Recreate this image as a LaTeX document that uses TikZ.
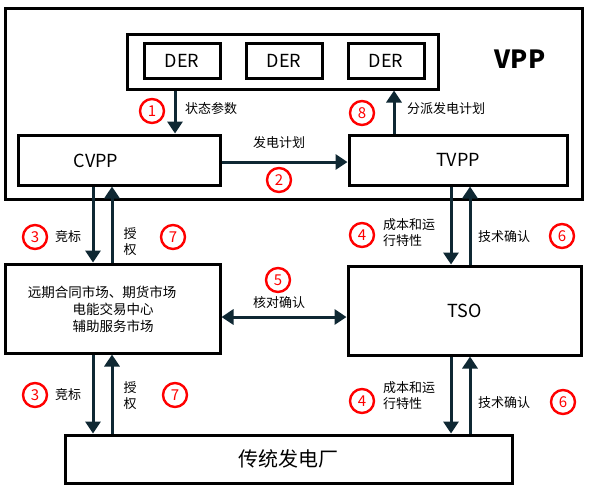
\documentclass[tikz,border=0pt]{standalone}
\usepackage{fontspec}
\setmainfont{Noto Sans CJK SC}
\usetikzlibrary{arrows.meta}
\definecolor{arrcol}{HTML}{0F2833}
\tikzset{
  box/.style={draw=black, line width=3pt, inner sep=0pt},
  arr/.style={draw=arrcol, line width=3pt, -{Triangle[length=12pt,width=15pt]}},
  darr/.style={draw=arrcol, line width=3pt, {Triangle[length=12pt,width=15pt]}-{Triangle[length=12pt,width=15pt]}},
  num/.style={circle, draw=red, line width=2.4pt, minimum size=24pt, inner sep=0pt, text=red, font=\fontsize{15}{15}\selectfont},
  lbl/.style={inner sep=0pt, font=\fontsize{13}{16}\selectfont, align=left},
  big/.style={font=\fontsize{18}{18}\selectfont, inner sep=0pt}
}
\begin{document}
\begin{tikzpicture}[x=1pt,y=-1pt]
\useasboundingbox (0,0) rectangle (591,488);
\fill[white] (0,0) rectangle (591,488);
% boxes
\node[box, minimum width=577pt, minimum height=191pt] (vpp) at (293.5,103.5) {};
\node[box, minimum width=311pt, minimum height=55pt] (derc) at (282.5,61.5) {};
\node[box, big, minimum width=76pt, minimum height=35pt] (der1) at (182,60.5) {DER};
\node[box, big, minimum width=76pt, minimum height=35pt] (der2) at (284,60.5) {DER};
\node[box, big, minimum width=76pt, minimum height=35pt] (der3) at (386,60.5) {DER};
\node[font=\fontsize{25}{25}\selectfont\bfseries, inner sep=0pt] (vpplbl) at (520,59) {VPP};
\node[box, minimum width=202pt, minimum height=50pt] (cvpp) at (119,160) {};
\node[big] (cvpptxt) at (96,161) {CVPP};
\node[box, big, minimum width=218pt, minimum height=50pt] (tvpp) at (458,160) {TVPP};
\node[box, minimum width=215pt, minimum height=89pt] (mkt) at (112.5,308.5) {};
\node[lbl, font=\fontsize{13.5}{17}\selectfont] (mkt1) at (102,292) {远期合同市场、期货市场};
\node[lbl, font=\fontsize{13.5}{17}\selectfont] (mkt2) at (113,309) {电能交易中心};
\node[lbl, font=\fontsize{13.5}{17}\selectfont] (mkt3) at (113,326) {辅助服务市场};
\node[box, big, minimum width=233pt, minimum height=89pt] (tso) at (464.5,310.5) {TSO};
\node[box, font=\fontsize{20}{20}\selectfont, minimum width=447pt, minimum height=48pt] (plant) at (288.5,459) {传统发电厂};
% x positions
\coordinate (x1) at (175,0);
\coordinate (x8) at (394,0);
\coordinate (xa) at (93,0);
\coordinate (xb) at (112,0);
\coordinate (xc) at (451,0);
\coordinate (xd) at (470,0);
\coordinate (y2) at (0,162);
\coordinate (y5) at (0,317);
% arrows
\draw[arr] (derc.south -| x1) -- (cvpp.north -| x1);
\draw[arr] (tvpp.north -| x8) -- (derc.south -| x8);
\draw[arr] (cvpp.east |- y2) -- (tvpp.west |- y2);
\draw[arr] (cvpp.south -| xa) -- (mkt.north -| xa);
\draw[arr] (mkt.north -| xb) -- (cvpp.south -| xb);
\draw[arr] (tvpp.south -| xc) -- (tso.north -| xc);
\draw[arr] (tso.north -| xd) -- (tvpp.south -| xd);
\draw[darr] (mkt.east |- y5) -- (tso.west |- y5);
\draw[arr] (mkt.south -| xa) -- (plant.north -| xa);
\draw[arr] (plant.north -| xb) -- (mkt.south -| xb);
\draw[arr] (tso.south -| xc) -- (plant.north -| xc);
\draw[arr] (plant.north -| xd) -- (tso.south -| xd);
% labels
\node[num] (n1) at (152,111) {1};
\node[lbl, anchor=west] (l1) at (185,109) {状态参数};
\node[num] (n8) at (362,113) {8};
\node[lbl, anchor=west] (l8) at (407,109) {分派发电计划};
\node[lbl] (l2) at (279,143) {发电计划};
\node[num] (n2) at (279,180) {2};
\node[num] (n3a) at (35,237) {3};
\node[lbl, anchor=west] (l3a) at (55,237) {竞标};
\node[lbl] (l7a) at (130,242) {授\\权};
\node[num] (n7a) at (173,237) {7};
\node[num] (n4a) at (362,235) {4};
\node[lbl, anchor=west] (l4a) at (383,233) {成本和运\\行特性};
\node[lbl, anchor=west] (l6a) at (478,237) {技术确认};
\node[num] (n6a) at (562,236) {6};
\node[num] (n5) at (278,280) {5};
\node[lbl] (l5) at (279,303) {核对确认};
\node[num] (n3b) at (35,395) {3};
\node[lbl, anchor=west] (l3b) at (55,395) {竞标};
\node[lbl] (l7b) at (130,396) {授\\权};
\node[num] (n7b) at (175,395) {7};
\node[num] (n4b) at (362,401) {4};
\node[lbl, anchor=west] (l4b) at (383,396) {成本和运\\行特性};
\node[lbl, anchor=west] (l6b) at (478,403) {技术确认};
\node[num] (n6b) at (563,402) {6};
\end{tikzpicture}
\end{document}
